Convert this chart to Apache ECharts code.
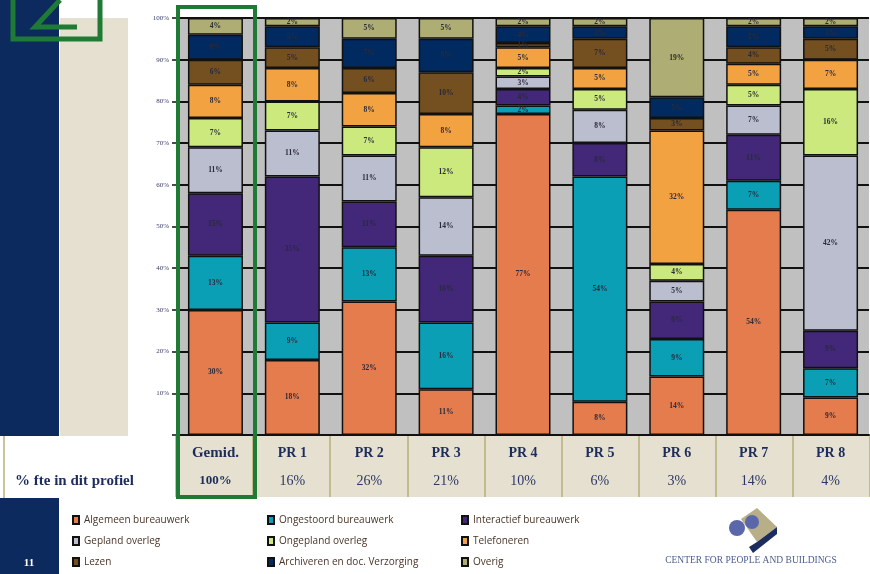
<!DOCTYPE html>
<html>
<head>
<meta charset="utf-8">
<script src="https://cdn.jsdelivr.net/npm/echarts@6/dist/echarts.min.js"></script>
<style>
  html, body { margin: 0; padding: 0; background: #ffffff; }
  #chart { width: 870px; height: 574px; }
</style>
</head>
<body>
<div id="chart"></div>
<script>
// Work profiles: share of time per activity (%), stacked to 100%
const categories = ['Gemid.', 'PR 1', 'PR 2', 'PR 3', 'PR 4', 'PR 5', 'PR 6', 'PR 7', 'PR 8'];
const fteShare = ['100%', '16%', '26%', '21%', '10%', '6%', '3%', '14%', '4%'];
const yTicks = [0, 10, 20, 30, 40, 50, 60, 70, 80, 90, 100];

const algemeen    = [30, 18, 32, 11, 77,  8, 14, 54,  9];
const ongestoord  = [13,  9, 13, 16,  2, 54,  9,  7,  7];
const interactief = [15, 35, 11, 16,  4,  8,  9, 11,  9];
const gepland     = [11, 11, 11, 14,  3,  8,  5,  7, 42];
const ongepland   = [ 7,  7,  7, 12,  2,  5,  4,  5, 16];
const telefoneren = [ 8,  8,  8,  8,  5,  5, 32,  5,  7];
const lezen       = [ 6,  5,  6, 10,  1,  7,  3,  4,  5];
const archiveren  = [ 6,  5,  7,  8,  4,  3,  5,  5,  3];
const overig      = [ 4,  2,  5,  5,  2,  2, 19,  2,  2];

const seriesDefs = [
  { name: 'Algemeen bureauwerk',           data: algemeen,    color: '#e47c4d' },
  { name: 'Ongestoord bureauwerk',         data: ongestoord,  color: '#0a9fb5' },
  { name: 'Interactief bureauwerk',        data: interactief, color: '#43287a' },
  { name: 'Gepland overleg',               data: gepland,     color: '#bbbecf' },
  { name: 'Ongepland overleg',             data: ongepland,   color: '#cce97d' },
  { name: 'Telefoneren',                   data: telefoneren, color: '#f3a241' },
  { name: 'Lezen',                         data: lezen,       color: '#744f1f' },
  { name: 'Archiveren en doc. Verzorging', data: archiveren,  color: '#012a60' },
  { name: 'Overig',                        data: overig,      color: '#aead73' }
];

const NAVY = '#0c2a5e';
const GREEN = '#1e7a34';
const BEIGE = '#e5e0cf';
const serif = "'Liberation Serif', 'DejaVu Serif', serif";

const chart = echarts.init(document.getElementById('chart'), null, { renderer: 'canvas' });

const legendBase = {
  orient: 'vertical',
  icon: 'rect',
  itemWidth: 6,
  itemHeight: 8,
  itemGap: 9,
  top: 514,
  padding: 0,
  textStyle: { fontFamily: "'Open Sans', 'DejaVu Sans', sans-serif", fontSize: 10, color: '#4a3427', lineHeight: 12, padding: [0, 0, 0, 0] }
};

const option = {
  backgroundColor: '#ffffff',
  animation: false,
  grid: [
    { left: 177, right: 1, top: 18, bottom: 139, show: true, backgroundColor: '#c0c0c0', borderWidth: 0, containLabel: false },
    // table band under the plot
    { left: 176, right: 0, top: 436, bottom: 77, show: true, backgroundColor: BEIGE, borderWidth: 0 }
  ],
  legend: [
    Object.assign({}, legendBase, { left: 72,  data: [seriesDefs[0].name, seriesDefs[3].name, seriesDefs[6].name] }),
    Object.assign({}, legendBase, { left: 267, data: [seriesDefs[1].name, seriesDefs[4].name, seriesDefs[7].name] }),
    Object.assign({}, legendBase, { left: 461, data: [seriesDefs[2].name, seriesDefs[5].name, seriesDefs[8].name] })
  ],
  xAxis: [
    {
      type: 'category',
      gridIndex: 0,
      data: categories,
      axisLine: { show: true, lineStyle: { color: '#111', width: 2 } },
      axisTick: { show: false },
      axisLabel: {
        margin: 4,
        interval: 0,
        formatter: function (value, idx) {
          return idx === 0
            ? '{ga|' + value + '}\n{gb|' + fteShare[idx] + '}'
            : '{a|' + value + '}\n{b|' + fteShare[idx] + '}';
        },
        rich: {
          ga: { fontFamily: serif, fontWeight: 'bold', fontSize: 15, color: '#1c2d5c', lineHeight: 28 },
          gb: { fontFamily: serif, fontWeight: 'bold', fontSize: 13, color: '#1c2d5c', lineHeight: 28 },
          a:  { fontFamily: serif, fontWeight: 'bold', fontSize: 14, color: '#1c2d5c', lineHeight: 28 },
          b:  { fontFamily: serif, fontWeight: 'normal', fontSize: 14, color: '#2c3566', lineHeight: 28 }
        }
      },
      splitLine: { show: false },
      z: 5
    },
    {
      type: 'category',
      gridIndex: 1,
      data: categories,
      boundaryGap: true,
      axisLine: { show: false },
      axisTick: { show: false },
      axisLabel: { show: false },
      splitLine: { show: true, interval: 0, lineStyle: { color: '#b5b07a', width: 1.5 } }
    }
  ],
  yAxis: [
    {
      type: 'value',
      gridIndex: 0,
      min: yTicks[0],
      max: yTicks[yTicks.length - 1],
      interval: 10,
      axisLine: { show: false },
      axisTick: { show: true, length: 5, lineStyle: { color: '#111', width: 1.5 } },
      axisLabel: {
        margin: 8,
        fontFamily: serif,
        fontSize: 7,
        color: '#3b3c6e',
        formatter: function (v) { return v === 0 ? '' : v + '%'; }
      },
      splitLine: { show: true, lineStyle: { color: '#111111', width: 2 } }
    },
    {
      type: 'value',
      gridIndex: 1,
      show: false,
      splitLine: { show: false }
    }
  ],
  series: seriesDefs.map(function (s) {
    return {
      name: s.name,
      type: 'bar',
      stack: 'profiel',
      xAxisIndex: 0,
      yAxisIndex: 0,
      barWidth: 55,
      data: s.data,
      itemStyle: { color: s.color, borderColor: '#111111', borderWidth: 1.5 },
      label: {
        show: true,
        position: 'inside',
        formatter: function (p) { return p.value + '%'; },
        fontFamily: serif,
        fontWeight: 'bold',
        fontSize: 7.5,
        color: '#2a2a3a'
      },
      emphasis: { disabled: true }
    };
  }),
  graphic: [
    // left navy band and beige panel of the slide
    { type: 'rect', z: -10, shape: { x: 0, y: 0, width: 59, height: 436 }, style: { fill: NAVY } },
    { type: 'rect', z: -10, shape: { x: 0, y: 498, width: 59, height: 76 }, style: { fill: NAVY } },
    { type: 'rect', z: -10, shape: { x: 60, y: 18, width: 68, height: 418 }, style: { fill: BEIGE } },
    { type: 'line', z: 10, shape: { x1: 4, y1: 436, x2: 4, y2: 498 }, style: { stroke: '#b5b07a', lineWidth: 1.5 } },
    // chapter mark, top left
    { type: 'polyline', z: 10, shape: { points: [[13, 0], [13, 39], [100, 39], [100, 0]] }, style: { stroke: GREEN, lineWidth: 5, fill: null } },
    { type: 'polyline', z: 10, shape: { points: [[60, 0], [35, 27], [77, 27]] }, style: { stroke: GREEN, lineWidth: 5, fill: null } },
    // highlight around the average column
    { type: 'rect', z: 20, shape: { x: 178, y: 7, width: 77, height: 490 }, style: { stroke: GREEN, lineWidth: 4, fill: null } },
    // table row caption
    { type: 'text', z: 20, style: { x: 15, y: 481, text: '% fte in dit profiel', fontFamily: serif, fontWeight: 'bold', fontSize: 15, fill: '#1c2d5c', verticalAlign: 'middle' } },
    // page number
    { type: 'text', z: 20, style: { x: 29, y: 563, text: '11', fontFamily: serif, fontWeight: 'bold', fontSize: 11, fill: '#ffffff', align: 'center', verticalAlign: 'middle' } },
    // logo
    { type: 'polygon', z: 20, shape: { points: [[741, 519], [757, 508], [777, 527], [757, 542]] }, style: { fill: '#b8af88' } },
    { type: 'polygon', z: 20, shape: { points: [[757, 542], [777, 527], [777, 534], [753, 553], [749, 547]] }, style: { fill: '#1c2c5d' } },
    { type: 'circle', z: 21, shape: { cx: 737, cy: 528, r: 8 }, style: { fill: '#5a68ab' } },
    { type: 'circle', z: 21, shape: { cx: 752, cy: 522, r: 7 }, style: { fill: '#5a68ab' } },
    { type: 'text', z: 20, style: { x: 751, y: 560, text: 'CENTER FOR PEOPLE AND BUILDINGS', fontFamily: serif, fontSize: 9.5, fill: '#4b5d8c', align: 'center', verticalAlign: 'middle' } }
  ]
};

chart.setOption(option);
</script>
</body>
</html>
